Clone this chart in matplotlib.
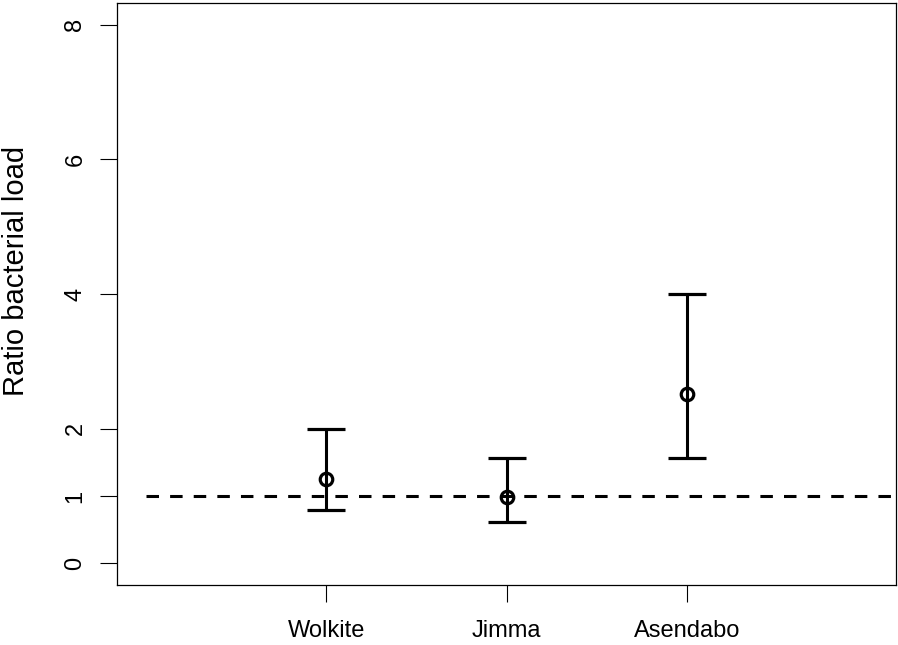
import matplotlib
matplotlib.use("Agg")
import matplotlib.pyplot as plt

plt.rcParams['font.family'] = ['Liberation Sans', 'DejaVu Sans']
plt.rcParams['lines.scale_dashes'] = False

sites = ["Wolkite", "Jimma", "Asendabo"]
positions = [1, 2, 3]
ratio = [1.26, 0.99, 2.52]
lower = [0.79, 0.62, 1.57]
upper = [2.0, 1.57, 4.0]
yticks = [0, 1, 2, 4, 6, 8]

fig = plt.figure(figsize=(8.98, 6.45), dpi=100)
ax = fig.add_axes([0.1303, 0.093, 0.8675, 0.902])

yerr = [[r - l for r, l in zip(ratio, lower)], [u - r for r, u in zip(ratio, upper)]]
ax.errorbar(positions, ratio, yerr=yerr, fmt='o', color='black', ecolor='black',
            elinewidth=2.2, capsize=14, capthick=2.2, markersize=9, markeredgewidth=2.3,
            markerfacecolor='none', zorder=3)
ax.plot([0, 5], [1, 1], color='black', lw=2.2, dashes=(9, 8), zorder=2)

ax.set_xlim(-0.16, 4.16)
ax.set_ylim(-0.32, 8.32)
ax.set_xticks(positions)
ax.set_xticklabels(sites, fontsize=17)
ax.set_yticks(yticks)
ax.set_yticklabels([str(t) for t in yticks], fontsize=17, rotation=90, va='center')
ax.tick_params(axis='both', length=12, width=0.8)
ax.tick_params(axis='x', pad=13)
ax.tick_params(axis='y', pad=10)
ax.set_ylabel("Ratio bacterial load", fontsize=21)
ax.yaxis.set_label_coords(-0.112, 0.54)
for s in ax.spines.values():
    s.set_linewidth(0.9)

fig.savefig("out.png", dpi=100)
